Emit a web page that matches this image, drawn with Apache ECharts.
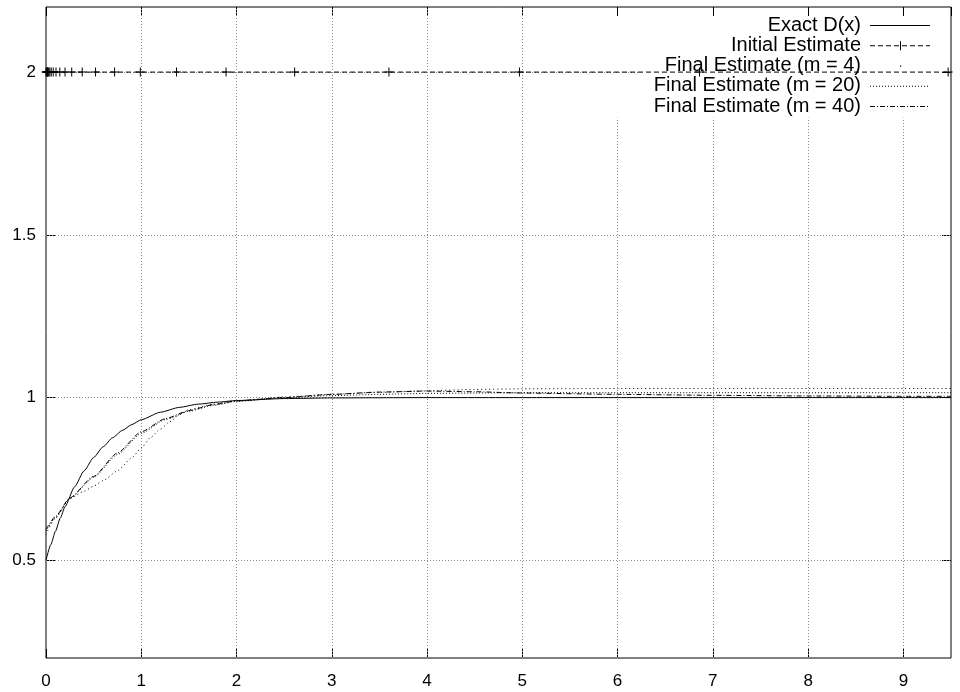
<!DOCTYPE html>
<html>
<head>
<meta charset="utf-8">
<script src="https://cdn.jsdelivr.net/npm/echarts@6/dist/echarts.min.js"></script>
<style>html,body{margin:0;padding:0;background:#fff}#c{width:960px;height:692px}</style>
</head>
<body>
<div id="c"></div>
<script>
// ---- data ----
const exactX = [0,0.05,0.1,0.15,0.2,0.3,0.4,0.5,0.6,0.7,0.8,0.9,1.0,1.2,1.4,1.6,1.8,2.0,2.5,3,4,5,6,7,8,9,9.5];
const exactY = [0.5,0.548,0.59,0.63,0.665,0.726,0.775,0.816,0.849,0.877,0.899,0.917,0.932,0.955,0.97,0.98,0.986,0.991,0.997,0.999,1,1,1,1,1,1,1];

const initX = [0,0.008,0.011,0.015,0.021,0.029,0.04,0.055,0.076,0.105,0.145,0.2,0.27,0.38,0.52,0.72,0.99,1.37,1.89,2.61,3.6,4.97,6.86,9.47];
const initY = [2,2,2,2,2,2,2,2,2,2,2,2,2,2,2,2,2,2,2,2,2,2,2,2];

const m4X = [0,0.1,0.25,0.4,0.5,0.6,0.75,0.9,1,1.1,1.2,1.3,1.4,1.5,1.75,2,2.5,3,3.5,4,4.5,5,6,7,8,9,9.5];
const m4Y = [0.58,0.63,0.69,0.712,0.728,0.745,0.775,0.815,0.845,0.878,0.903,0.926,0.947,0.963,0.98,0.99,1.002,1.01,1.016,1.021,1.025,1.027,1.028,1.028,1.028,1.028,1.028];

const m20X = [0,0.1,0.25,0.5,0.75,1,1.25,1.5,1.75,2,2.5,3,3.5,4,4.5,5,6,7,8,9,9.5];
const m20Y = [0.59,0.632,0.69,0.755,0.825,0.89,0.932,0.958,0.976,0.988,1.0,1.006,1.01,1.013,1.014,1.015,1.015,1.015,1.015,1.015,1.015];

const m40X = [0,0.1,0.25,0.5,0.75,1,1.25,1.5,1.75,2,2.5,3,3.5,4,4.5,5,6,7,8,9,9.5];
const m40Y = [0.595,0.635,0.692,0.758,0.83,0.895,0.935,0.96,0.978,0.99,1.0,1.01,1.017,1.02,1.018,1.014,1.01,1.007,1.005,1.004,1.004];

const xTickLabels = [0,1,2,3,4,5,6,7,8,9];
const yTickValues = [0.5,1,1.5,2];
const seriesNames = ['Exact D(x)','Initial Estimate','Final Estimate (m = 4)','Final Estimate (m = 20)','Final Estimate (m = 40)'];

// ---- chart ----
const FONT = 'Liberation Sans, Arial, Helvetica, sans-serif';
const zip = (xs, ys) => xs.map((x, i) => [x, ys[i]]);
const chart = echarts.init(document.getElementById('c'), null, {renderer: 'canvas'});

const XMIN = 0, XMAX = 9.5, YMIN = 0.2, YMAX = 2.2;
// key area (gnuplot keeps grid out of the key box)
const KEY_X = 6.24, KEY_Y = 1.86;
const gridLines = [];
xTickLabels.filter(v => v > 0).forEach(v => {
  gridLines.push([{coord: [v, YMIN]}, {coord: [v, v >= KEY_X - 0.5 ? KEY_Y : YMAX]}]);
});
yTickValues.forEach(v => {
  gridLines.push([{coord: [XMIN, v]}, {coord: [v >= KEY_Y ? KEY_X : XMAX, v]}]);
});

const plusPath = 'path://M4,0h1v4h4v1h-4v4h-1v-4h-4v-1h4z';

const axisCommonX = {
  type: 'value', min: XMIN, max: XMAX, interval: 1,
  axisLine: {show: false, onZero: false}, splitLine: {show: false},
  axisTick: {inside: true, length: 9, lineStyle: {color: '#000', width: 1}}
};
const axisCommonY = {
  type: 'value', min: YMIN, max: YMAX,
  axisLine: {show: false, onZero: false}, splitLine: {show: false},
  axisTick: {inside: true, length: 9, customValues: yTickValues, lineStyle: {color: '#000', width: 1}}
};

const rowY = i => 25 + 20.25 * i;
const graphics = [];
seriesNames.forEach((name, i) => {
  graphics.push({type: 'text', x: 861, y: rowY(i), style: {text: name, align: 'right', verticalAlign: 'middle', font: '20px ' + FONT, fill: '#000'}, z: 100});
});
const seg = (i, dash) => ({type: 'line', shape: {x1: 870, y1: rowY(i) + 0.5, x2: 930, y2: rowY(i) + 0.5}, style: {stroke: '#000', lineWidth: 1, lineDash: dash}, z: 100});
graphics.push(seg(0, null));
graphics.push(seg(1, [5, 3]));
graphics.push({type: 'line', shape: {x1: 900.5, y1: rowY(1) - 4, x2: 900.5, y2: rowY(1) + 5}, style: {stroke: '#000', lineWidth: 1}, z: 100});
graphics.push({type: 'rect', shape: {x: 900, y: rowY(2), width: 1.2, height: 1.2}, style: {fill: '#000'}, z: 100});
graphics.push(seg(3, [1, 2]));
graphics.push(seg(4, [5, 2, 1, 2]));

chart.setOption({
  animation: false,
  backgroundColor: '#fff',
  grid: {left: 46, top: 7, right: 9, bottom: 34, show: true, borderColor: '#000', borderWidth: 1, backgroundColor: 'transparent'},
  xAxis: [
    Object.assign({}, axisCommonX, {position: 'bottom',
      axisLabel: {formatter: v => (Number.isInteger(v) && xTickLabels.includes(v)) ? String(v) : '', margin: 15, fontSize: 17, color: '#000', fontFamily: FONT, showMaxLabel: false}}),
    Object.assign({}, axisCommonX, {position: 'top', axisLabel: {show: false}})
  ],
  yAxis: [
    Object.assign({}, axisCommonY, {position: 'left',
      axisLabel: {customValues: yTickValues, formatter: v => String(v), margin: 10, fontSize: 17, color: '#000', fontFamily: FONT}}),
    Object.assign({}, axisCommonY, {position: 'right', axisLabel: {show: false}})
  ],
  graphic: graphics,
  series: [
    {
      name: 'grid', type: 'line', data: [], silent: true, z: 1,
      markLine: {silent: true, symbol: ['none', 'none'], label: {show: false}, animation: false,
        lineStyle: {color: '#8a8a8a', type: [1, 2], width: 1}, emphasis: {disabled: true}, data: gridLines}
    },
    {name: seriesNames[0], type: 'line', data: zip(exactX, exactY), showSymbol: false, smooth: 0.2, smoothMonotone: 'x',
      lineStyle: {color: '#000', width: 1}, z: 5},
    {name: seriesNames[1], type: 'line', data: zip(initX, initY), showSymbol: true, symbol: plusPath, symbolSize: 9,
      itemStyle: {color: '#000'}, lineStyle: {color: '#000', width: 1, type: [5, 3]}, z: 5},
    {name: seriesNames[2], type: 'line', data: zip(m4X, m4Y), showSymbol: false, smooth: 0.2, smoothMonotone: 'x',
      lineStyle: {color: '#000', width: 1, type: [1, 3]}, z: 5},
    {name: seriesNames[3], type: 'line', data: zip(m20X, m20Y), showSymbol: false, smooth: 0.2, smoothMonotone: 'x',
      lineStyle: {color: '#000', width: 1, type: [1, 2]}, z: 5},
    {name: seriesNames[4], type: 'line', data: zip(m40X, m40Y), showSymbol: false, smooth: 0.2, smoothMonotone: 'x',
      lineStyle: {color: '#000', width: 1, type: [5, 2, 1, 2]}, z: 5}
  ]
});
</script>
</body>
</html>
